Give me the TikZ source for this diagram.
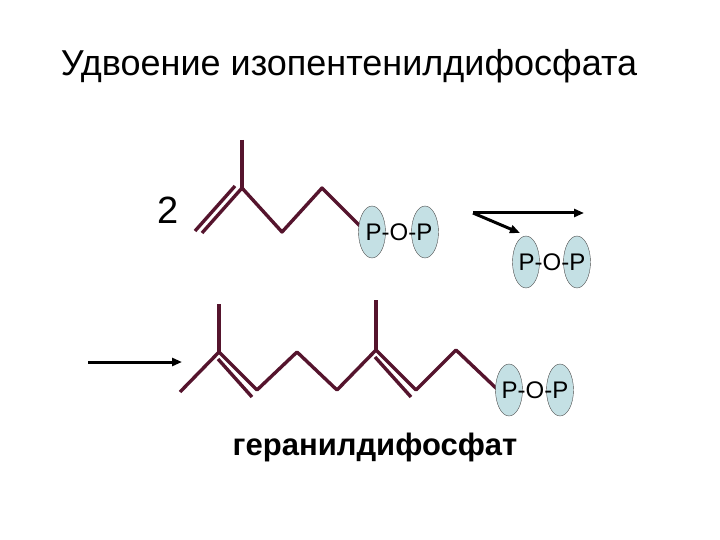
\documentclass[tikz,border=0pt]{standalone}
\usepackage{fontspec}
\setmainfont{Liberation Sans}
\usetikzlibrary{shapes.geometric,arrows.meta}
\definecolor{bond}{RGB}{85,20,45}
\definecolor{pfill}{RGB}{196,224,228}
\begin{document}
\begin{tikzpicture}[x=1pt,y=-1pt,
  bondl/.style={draw=bond,line width=3.4pt},
  pel/.style={ellipse,draw=black!70,thin,fill=pfill,minimum width=27pt,minimum height=52pt,inner sep=0pt},
  arr/.style={draw=black,line width=3pt,-{Triangle[length=10pt,width=8pt]}},
  poptext/.style={font=\fontsize{24}{24}\selectfont,inner sep=0pt}]
\useasboundingbox (0,0) rectangle (720,540);
\node (title) at (349,66) {\fontsize{36}{36}\selectfont Удвоение изопентенилдифосфата};
\node (two) at (168,210) {\fontsize{38}{38}\selectfont 2};
% top molecule
\coordinate (t0) at (242,140);
\coordinate (t1) at (242,188);
\coordinate (t2) at (202,233);
\coordinate (t3) at (282,232);
\coordinate (t4) at (322,188);
\coordinate (t5) at (362,228);
\draw[bondl] (t0) -- (t1);
\draw[bondl,line join=round] (t2) -- (t1) -- (t3) -- (t4) -- (t5);
\draw[bondl] ([shift={(-7,-2)}]t2) -- ([shift={(-7,-2)}]t1) ;
\node[pel] (e1) at (372,232) {};
\node[pel] (e2) at (425,232) {};
\node[poptext] (pop1) at (399,232) {P-O-P};
% second POP with arrows
\node[pel] (e3) at (526,262) {};
\node[pel] (e4) at (577,262) {};
\node[poptext] (pop2) at (552,262) {P-O-P};
\coordinate (a0) at (473,213);
\coordinate (a1) at (584,213);
\coordinate (a2) at (520,233);
\draw[arr] (a0) -- (a1);
\draw[arr] (a0) -- (a2);
% left arrow
\coordinate (b0) at (88,362);
\coordinate (b1) at (182,362);
\draw[arr] (b0) -- (b1);
% bottom molecule
\coordinate (m0) at (180,392);
\coordinate (m1) at (219,352);
\coordinate (m1t) at (219,304);
\coordinate (m2) at (257,390);
\coordinate (m3) at (297,352);
\coordinate (m4) at (337,390);
\coordinate (m5) at (376,350);
\coordinate (m5t) at (376,300);
\coordinate (m6) at (416,390);
\coordinate (m7) at (456,350);
\coordinate (m8) at (497,389);
\draw[bondl,line join=round] (m0) -- (m1) -- (m2) -- (m3) -- (m4) -- (m5) -- (m6) -- (m7) -- (m8);
\draw[bondl] (m1t) -- (m1);
\draw[bondl] (m5t) -- (m5);
\draw[bondl] ([shift={(-1,7)}]m1) -- ([shift={(-5,7)}]m2);
\draw[bondl] ([shift={(-1,7)}]m5) -- ([shift={(-5,7)}]m6);
\node[pel] (e5) at (509,390) {};
\node[pel] (e6) at (560,390) {};
\node[poptext] (pop3) at (535,390) {P-O-P};
\node (ger) at (375,447) {\fontsize{31}{31}\selectfont\bfseries геранилдифосфат};
\end{tikzpicture}
\end{document}
